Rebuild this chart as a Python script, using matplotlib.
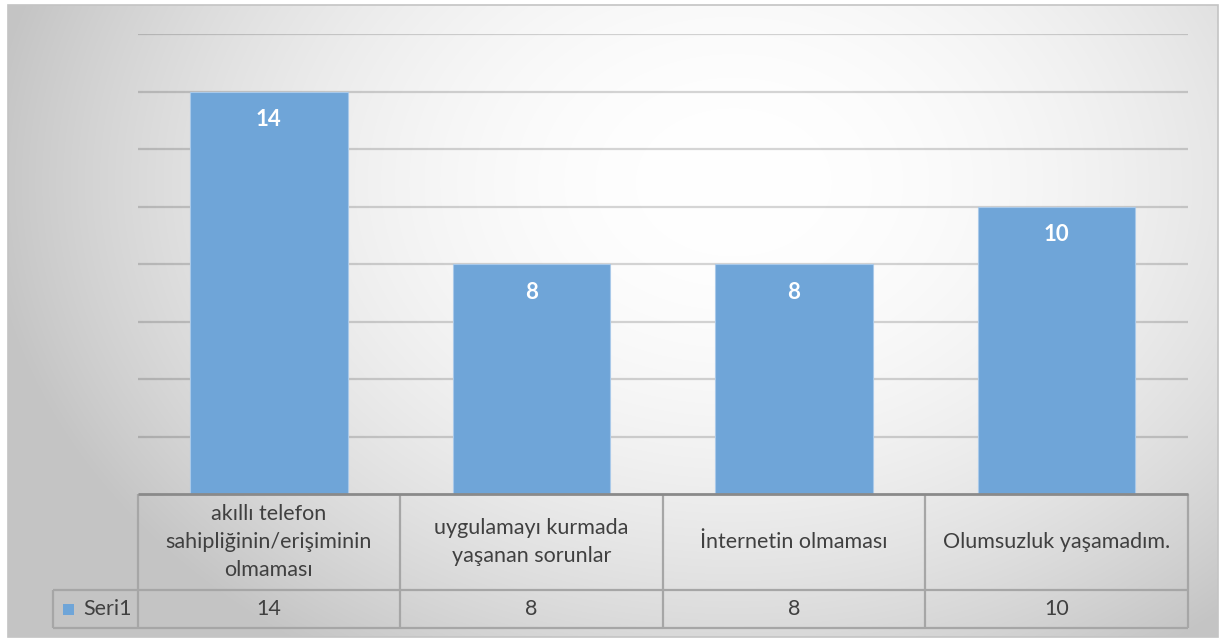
import numpy as np
import matplotlib
matplotlib.use("Agg")
import matplotlib.pyplot as plt
from matplotlib.patches import Rectangle
from matplotlib.transforms import blended_transform_factory

# Veriler
kategoriler = ["akıllı telefon\nsahipliğinin/erişiminin\nolmaması",
               "uygulamayı kurmada\nyaşanan sorunlar",
               "İnternetin olmaması",
               "Olumsuzluk yaşamadım."]
degerler = [14, 8, 8, 10]
seri_adi = "Seri1"

W, H = 1219, 639
bar_renk = "#6fa5d8"
yazi_renk = "#404040"
cizgi_renk = "#a6a6a6"

plt.rcParams["font.family"] = ["Lato", "DejaVu Sans"]

fig = plt.figure(figsize=(W / 100, H / 100), dpi=100)
fig.patch.set_facecolor("white")

# Arka plan: ortası beyaz, kenarlara doğru griye dönen radyal geçiş
bx0, by0, bx1, by1 = 8, 5, 1218, 637
bg = fig.add_axes([bx0 / W, 1 - by1 / H, (bx1 - bx0) / W, (by1 - by0) / H])
yy, xx = np.mgrid[0:1:300j, 0:1:600j]
r = np.sqrt(((xx - 0.6) / 0.62) ** 2 + ((yy - 0.28) / 0.9) ** 2)
gri = 1 - 0.23 * np.clip(r, 0, 1) ** 2.0
bg.imshow(np.dstack([gri, gri, gri]), aspect="auto", extent=[0, 1, 1, 0],
          interpolation="bilinear")
bg.set_xlim(0, 1)
bg.set_ylim(1, 0)
bg.axis("off")
bg.add_patch(Rectangle((0, 0), 1, 1, transform=bg.transAxes, fill=False,
                       edgecolor="#c4c4c4", lw=1.2, clip_on=False))

# Grafik alanı
px0, px1, py_top, py_bot = 137.5, 1188, 34.5, 494
ax = fig.add_axes([px0 / W, 1 - py_bot / H, (px1 - px0) / W, (py_bot - py_top) / H])
ax.patch.set_alpha(0)
x = np.arange(len(degerler))
ax.bar(x, degerler, width=0.6, color=bar_renk, edgecolor="#a9c9e9", lw=0.8, zorder=3)
ax.set_xlim(-0.5, len(degerler) - 0.5)
ax.set_ylim(0, 16)
ax.set_yticks(np.arange(2, 17, 2))
ax.grid(axis="y", color="black", alpha=0.16, lw=1.6, zorder=0)
ax.tick_params(left=False, bottom=False, labelleft=False, labelbottom=False)
for s in ax.spines.values():
    s.set_visible(False)

for xi, v in zip(x, degerler):
    ax.text(xi, v - 0.97, str(v), ha="center", va="center", color="white",
            fontsize=16, fontweight="bold", zorder=4)

# Veri tablosu
tr = blended_transform_factory(ax.transData, ax.transAxes)
eksen_h = py_bot - py_top
birim = (px1 - px0) / len(degerler)
y_ust = 0.0
y_orta = -(590 - py_bot) / eksen_h
y_alt = -(628 - py_bot) / eksen_h
x_sol = -0.5 - (px0 - 53) / birim
x_sag = len(degerler) - 0.5

def cizgi(xs, ys, renk=cizgi_renk, lw=1.6):
    ax.plot(xs, ys, color=renk, lw=lw, transform=tr, clip_on=False,
            solid_capstyle="butt", zorder=5)

cizgi([-0.5, x_sag], [y_orta, y_orta])
cizgi([x_sol, x_sag], [y_alt, y_alt])
cizgi([x_sol, -0.5], [y_orta, y_orta])
cizgi([x_sol, x_sol], [y_orta, y_alt])
for k in range(len(degerler) + 1):
    cizgi([k - 0.5, k - 0.5], [y_ust, y_alt])
cizgi([-0.5, x_sag], [y_ust, y_ust], renk="#8a8a8a", lw=2.0)

for xi, kat, v in zip(x, kategoriler, degerler):
    ax.text(xi, (y_ust + y_orta) / 2, kat, ha="center", va="center",
            color=yazi_renk, fontsize=15.5, linespacing=1.5, transform=tr)
    ax.text(xi, (y_orta + y_alt) / 2, str(v), ha="center", va="center",
            color=yazi_renk, fontsize=15.5, transform=tr)

# Seri etiketi ve renk kutusu
ax.text(-0.5 - 0.02, (y_orta + y_alt) / 2, seri_adi, ha="right", va="center",
        color=yazi_renk, fontsize=15.5, transform=tr)
kutu_x = x_sol + 10 / birim
kutu_h = 11 / eksen_h
ax.add_patch(Rectangle((kutu_x, (y_orta + y_alt) / 2 - kutu_h / 2), 11 / birim, kutu_h,
                       facecolor=bar_renk, edgecolor="none", transform=tr,
                       clip_on=False, zorder=5))

fig.savefig("out.png", dpi=100)
